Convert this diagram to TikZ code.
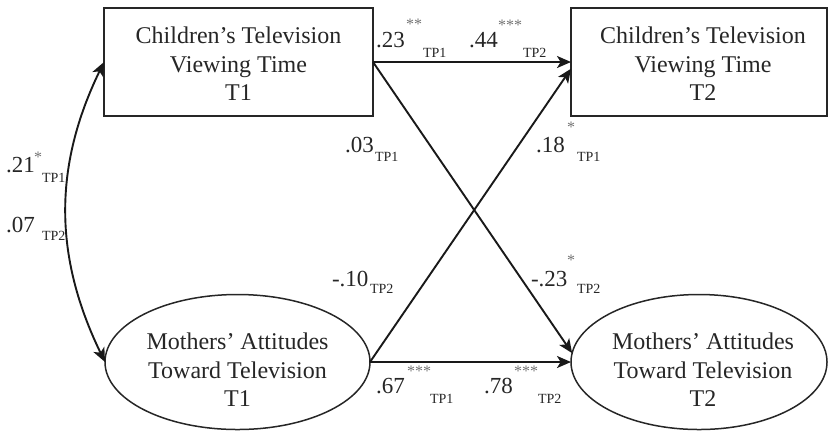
\documentclass[tikz,border=0pt]{standalone}
\usepackage{fontspec}
\setmainfont{Liberation Serif}
\usetikzlibrary{shapes.geometric,arrows.meta}
\begin{document}
\begin{tikzpicture}[x=0.5pt,y=-0.5pt,
  every node/.style={inner sep=0pt, outer sep=0pt},
  var/.style={draw=black!85, line width=0.75pt},
  boxv/.style={var, rectangle, minimum width=134.5pt, minimum height=54pt},
  ellv/.style={var, ellipse, minimum width=132.5pt, minimum height=67.5pt},
  vtext/.style={align=center, font=\fontsize{12}{14.25}\selectfont, text=black!85},
  path/.style={line width=0.95pt, draw=black!90, -{Stealth[length=7pt,width=6pt,inset=1.8pt]}},
  coef/.style={font=\fontsize{11.5}{13}\selectfont, anchor=base west, text=black!85},
  tp/.style={font=\fontsize{7}{7}\selectfont, anchor=base west, text=black!85},
  star/.style={font=\fontsize{8}{8}\selectfont, anchor=base west, text=black!55}]
\useasboundingbox (0,0) rectangle (828,430);

% variables
\node[boxv] (c1) at (238.5,62) {};
\node[vtext] (c1t) at (238.5,64) {Children’s Television\\Viewing Time\\T1};
\node[boxv, minimum width=128pt] (c2) at (699,62) {};
\node[vtext] (c2t) at (703,64) {Children’s Television\\Viewing Time\\T2};
\node[ellv] (m1) at (237.5,362) {};
\node[vtext] (m1t) at (237.5,370) {Mothers’ Attitudes\\Toward Television\\T1};
\node[ellv, minimum width=128pt] (m2) at (699,362) {};
\node[vtext] (m2t) at (703,370) {Mothers’ Attitudes\\Toward Television\\T2};

% paths
\draw[path] (c1.east) -- (c2.west);
\draw[path] (m1.east) -- (m2.west);
\draw[path] (c1.east) -- (m2.176);
\draw[path] (m1.east) -- (c2.183);
\draw[line width=0.95pt, draw=black!90, {Stealth[length=7pt,width=6pt,inset=1.8pt]}-{Stealth[length=7pt,width=6pt,inset=1.8pt]}]
  (c1.west) .. controls +(-51,105) and +(-51,-105) .. (m1.west);

% top stability labels
\node[coef] (l1) at (376,47) {.23};
\node[star] (s1) at (406,29.5) {**};
\node[tp] (t1) at (423,57) {TP1};
\node[coef] (l2) at (469,47) {.44};
\node[star] (s2) at (498,30) {***};
\node[tp] (t2) at (523,57) {TP2};

% bottom stability labels
\node[coef] (l3) at (376,393) {.67};
\node[star] (s3) at (407,376.5) {***};
\node[tp] (t3) at (430,403) {TP1};
\node[coef] (l4) at (484,393) {.78};
\node[star] (s4) at (514,376.5) {***};
\node[tp] (t4) at (538,403) {TP2};

% cross-lagged labels
\node[coef] (l5) at (345,152) {.03};
\node[tp] (t5) at (375,161) {TP1};
\node[coef] (l6) at (536,152) {.18};
\node[star] (s6) at (567,132.5) {*};
\node[tp] (t6) at (577,161) {TP1};
\node[coef] (l7) at (332,286) {-.10};
\node[tp] (t7) at (370,293) {TP2};
\node[coef] (l8) at (531,286) {-.23};
\node[star] (s8) at (567,265.5) {*};
\node[tp] (t8) at (577,293) {TP2};

% correlation labels
\node[coef] (l9) at (6,172) {.21};
\node[star] (s9) at (34,162.5) {*};
\node[tp] (t9) at (42,182) {TP1};
\node[coef] (l10) at (6,232) {.07};
\node[tp] (t10) at (42,240) {TP2};
\end{tikzpicture}
\end{document}
